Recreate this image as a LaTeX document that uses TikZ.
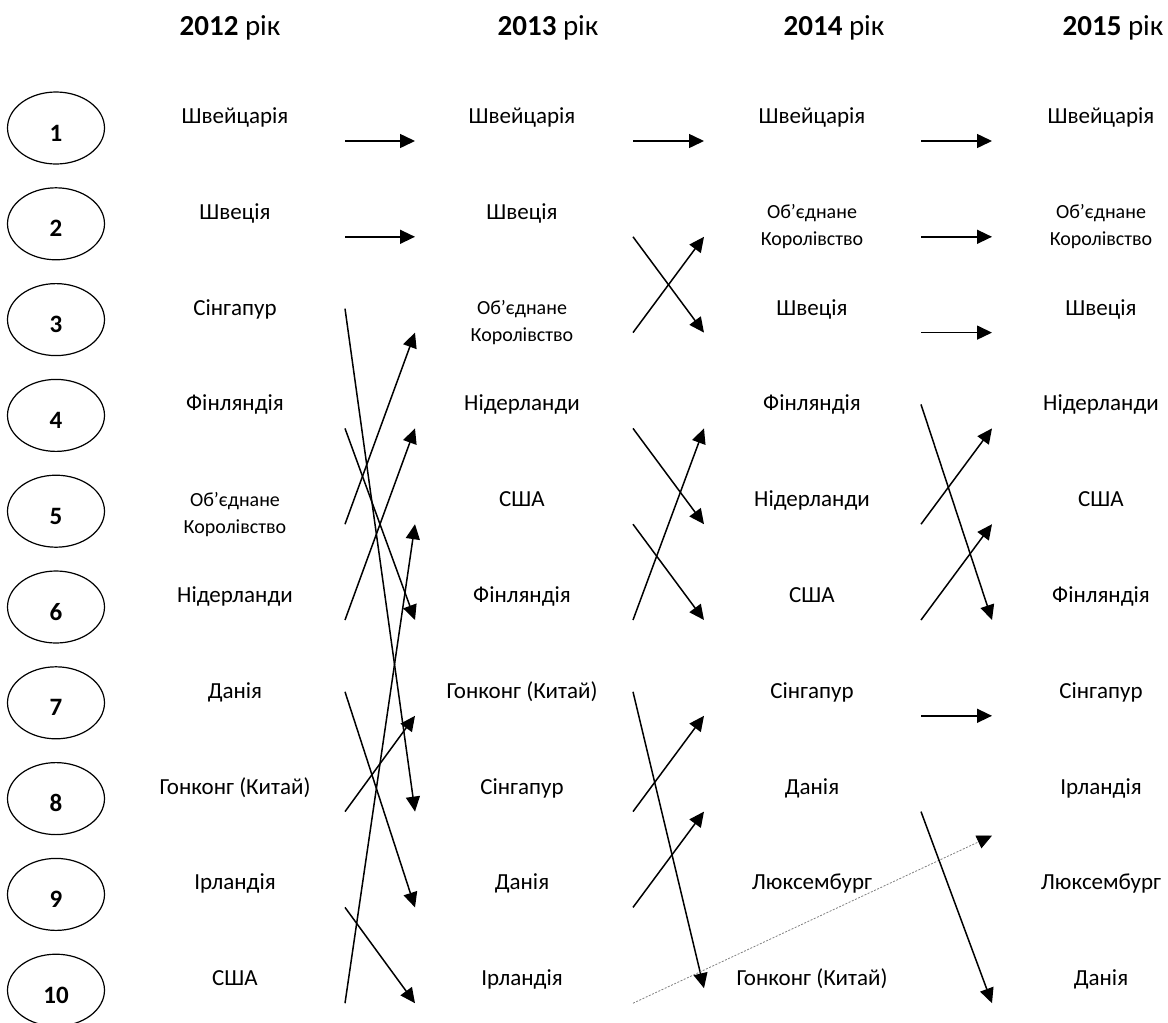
\documentclass[tikz,border=0pt]{standalone}
\usepackage{fontspec}
\setmainfont{Carlito}
\usetikzlibrary{arrows.meta,shapes.geometric}
\tikzset{
  hdr/.style={anchor=base,inner sep=0pt,font=\fontsize{29}{31}\selectfont},
  lbl/.style={anchor=base,inner sep=0pt,font=\fontsize{23}{26}\selectfont},
  lbl2/.style={anchor=center,inner sep=0pt,align=center,font=\fontsize{20}{27}\selectfont},
  rank/.style={ellipse,draw,line width=1.2pt,minimum width=97pt,minimum height=72pt,
    inner sep=0pt,text height=26pt,text depth=0pt,font=\bfseries\fontsize{25}{25}\selectfont},
  arr/.style={line width=1.5pt,-{Triangle[length=15pt,width=14pt]}},
  newarr/.style={line width=0.8pt,gray,dash pattern=on 2pt off 1.5pt,
    -{Triangle[length=15pt,width=14pt,black]}},
}
\begin{document}
\begin{tikzpicture}[x=1pt,y=-1pt]
  \useasboundingbox (0,0) rectangle (1168,1023);
  % arrow ends in the three gaps
  \foreach \g/\xl/\xr in {1/345/415,2/633/704,3/921/992}
    \foreach \r in {1,...,10}{
      \coordinate (L\g-\r) at (\xl,{141+95.8*(\r-1)});
      \coordinate (R\g-\r) at (\xr,{141+95.8*(\r-1)});
    }
  % 2012 -> 2013
  \draw[arr](L1-1)--(R1-1);
  \draw[arr](L1-2)--(R1-2);
  \draw[arr]([yshift=24pt]L1-3)--(R1-8);
  \draw[arr](L1-4)--(R1-6);
  \draw[arr](L1-5)--(R1-3);
  \draw[arr](L1-6)--(R1-4);
  \draw[arr]([yshift=24pt]L1-7)--(R1-9);
  \draw[arr](L1-8)--(R1-7);
  \draw[arr](L1-9)--(R1-10);
  \draw[arr](L1-10)--(R1-5);
  % 2013 -> 2014
  \draw[arr](L2-1)--(R2-1);
  \draw[arr](L2-2)--(R2-3);
  \draw[arr](L2-3)--(R2-2);
  \draw[arr](L2-4)--(R2-5);
  \draw[arr](L2-5)--(R2-6);
  \draw[arr](L2-6)--(R2-4);
  \draw[arr]([yshift=24pt]L2-7)--([yshift=15pt]R2-10);
  \draw[arr](L2-8)--(R2-7);
  \draw[arr](L2-9)--(R2-8);
  \draw[newarr](L2-10)--([yshift=-24pt]R3-8); % Ireland 2013 -> 2015
  % 2014 -> 2015
  \draw[arr](L3-1)--(R3-1);
  \draw[arr](L3-2)--(R3-2);
  \draw[arr](L3-3)--(R3-3);
  \draw[arr]([yshift=24pt]L3-4)--(R3-6);
  \draw[arr](L3-5)--(R3-4);
  \draw[arr](L3-6)--(R3-5);
  \draw[arr](L3-7)--(R3-7);
  \draw[arr](L3-8)--(R3-10);
  % years
  \node[hdr] (h12) at (230,35) {\textbf{2012} рік};
  \node[hdr] (h13) at (548,35) {\textbf{2013} рік};
  \node[hdr] (h14) at (834,35) {\textbf{2014} рік};
  \node[hdr] (h15) at (1113,35) {\textbf{2015} рік};
  % ranks
  \foreach \r in {1,...,10}
    \node[rank] (n\r) at (56,{141+95.8*(\r-1)-13}) {\r};
  % countries
  \foreach \r/\t in {1/Швейцарія,2/Швеція,3/Сінгапур,4/Фінляндія,6/Нідерланди,
      7/Данія,8/Гонконг (Китай),9/Ірландія,10/США}
    \node[lbl] (c12-\r) at (235,{141+95.8*(\r-1)-17.5}) {\t};
  \node[lbl2] (c12-5) at (235,{141+95.8*4-10}) {Об’єднане\\Королівство};
  \foreach \r/\t in {1/Швейцарія,2/Швеція,4/Нідерланди,5/США,6/Фінляндія,
      7/Гонконг (Китай),8/Сінгапур,9/Данія,10/Ірландія}
    \node[lbl] (c13-\r) at (522,{141+95.8*(\r-1)-17.5}) {\t};
  \node[lbl2] (c13-3) at (522,{141+95.8*2-10}) {Об’єднане\\Королівство};
  \foreach \r/\t in {1/Швейцарія,3/Швеція,4/Фінляндія,5/Нідерланди,6/США,
      7/Сінгапур,8/Данія,9/Люксембург}
    \node[lbl] (c14-\r) at (812,{141+95.8*(\r-1)-17.5}) {\t};
  \node[lbl,fill=white,inner xsep=6pt] (c14-10) at (812,{141+95.8*9-17.5}) {Гонконг (Китай)};
  \node[lbl2] (c14-2) at (812,{141+95.8*1-10}) {Об’єднане\\Королівство};
  \foreach \r/\t in {1/Швейцарія,3/Швеція,4/Нідерланди,5/США,6/Фінляндія,
      7/Сінгапур,8/Ірландія,9/Люксембург,10/Данія}
    \node[lbl] (c15-\r) at (1101,{141+95.8*(\r-1)-17.5}) {\t};
  \node[lbl2] (c15-2) at (1101,{141+95.8*1-10}) {Об’єднане\\Королівство};
\end{tikzpicture}
\end{document}
